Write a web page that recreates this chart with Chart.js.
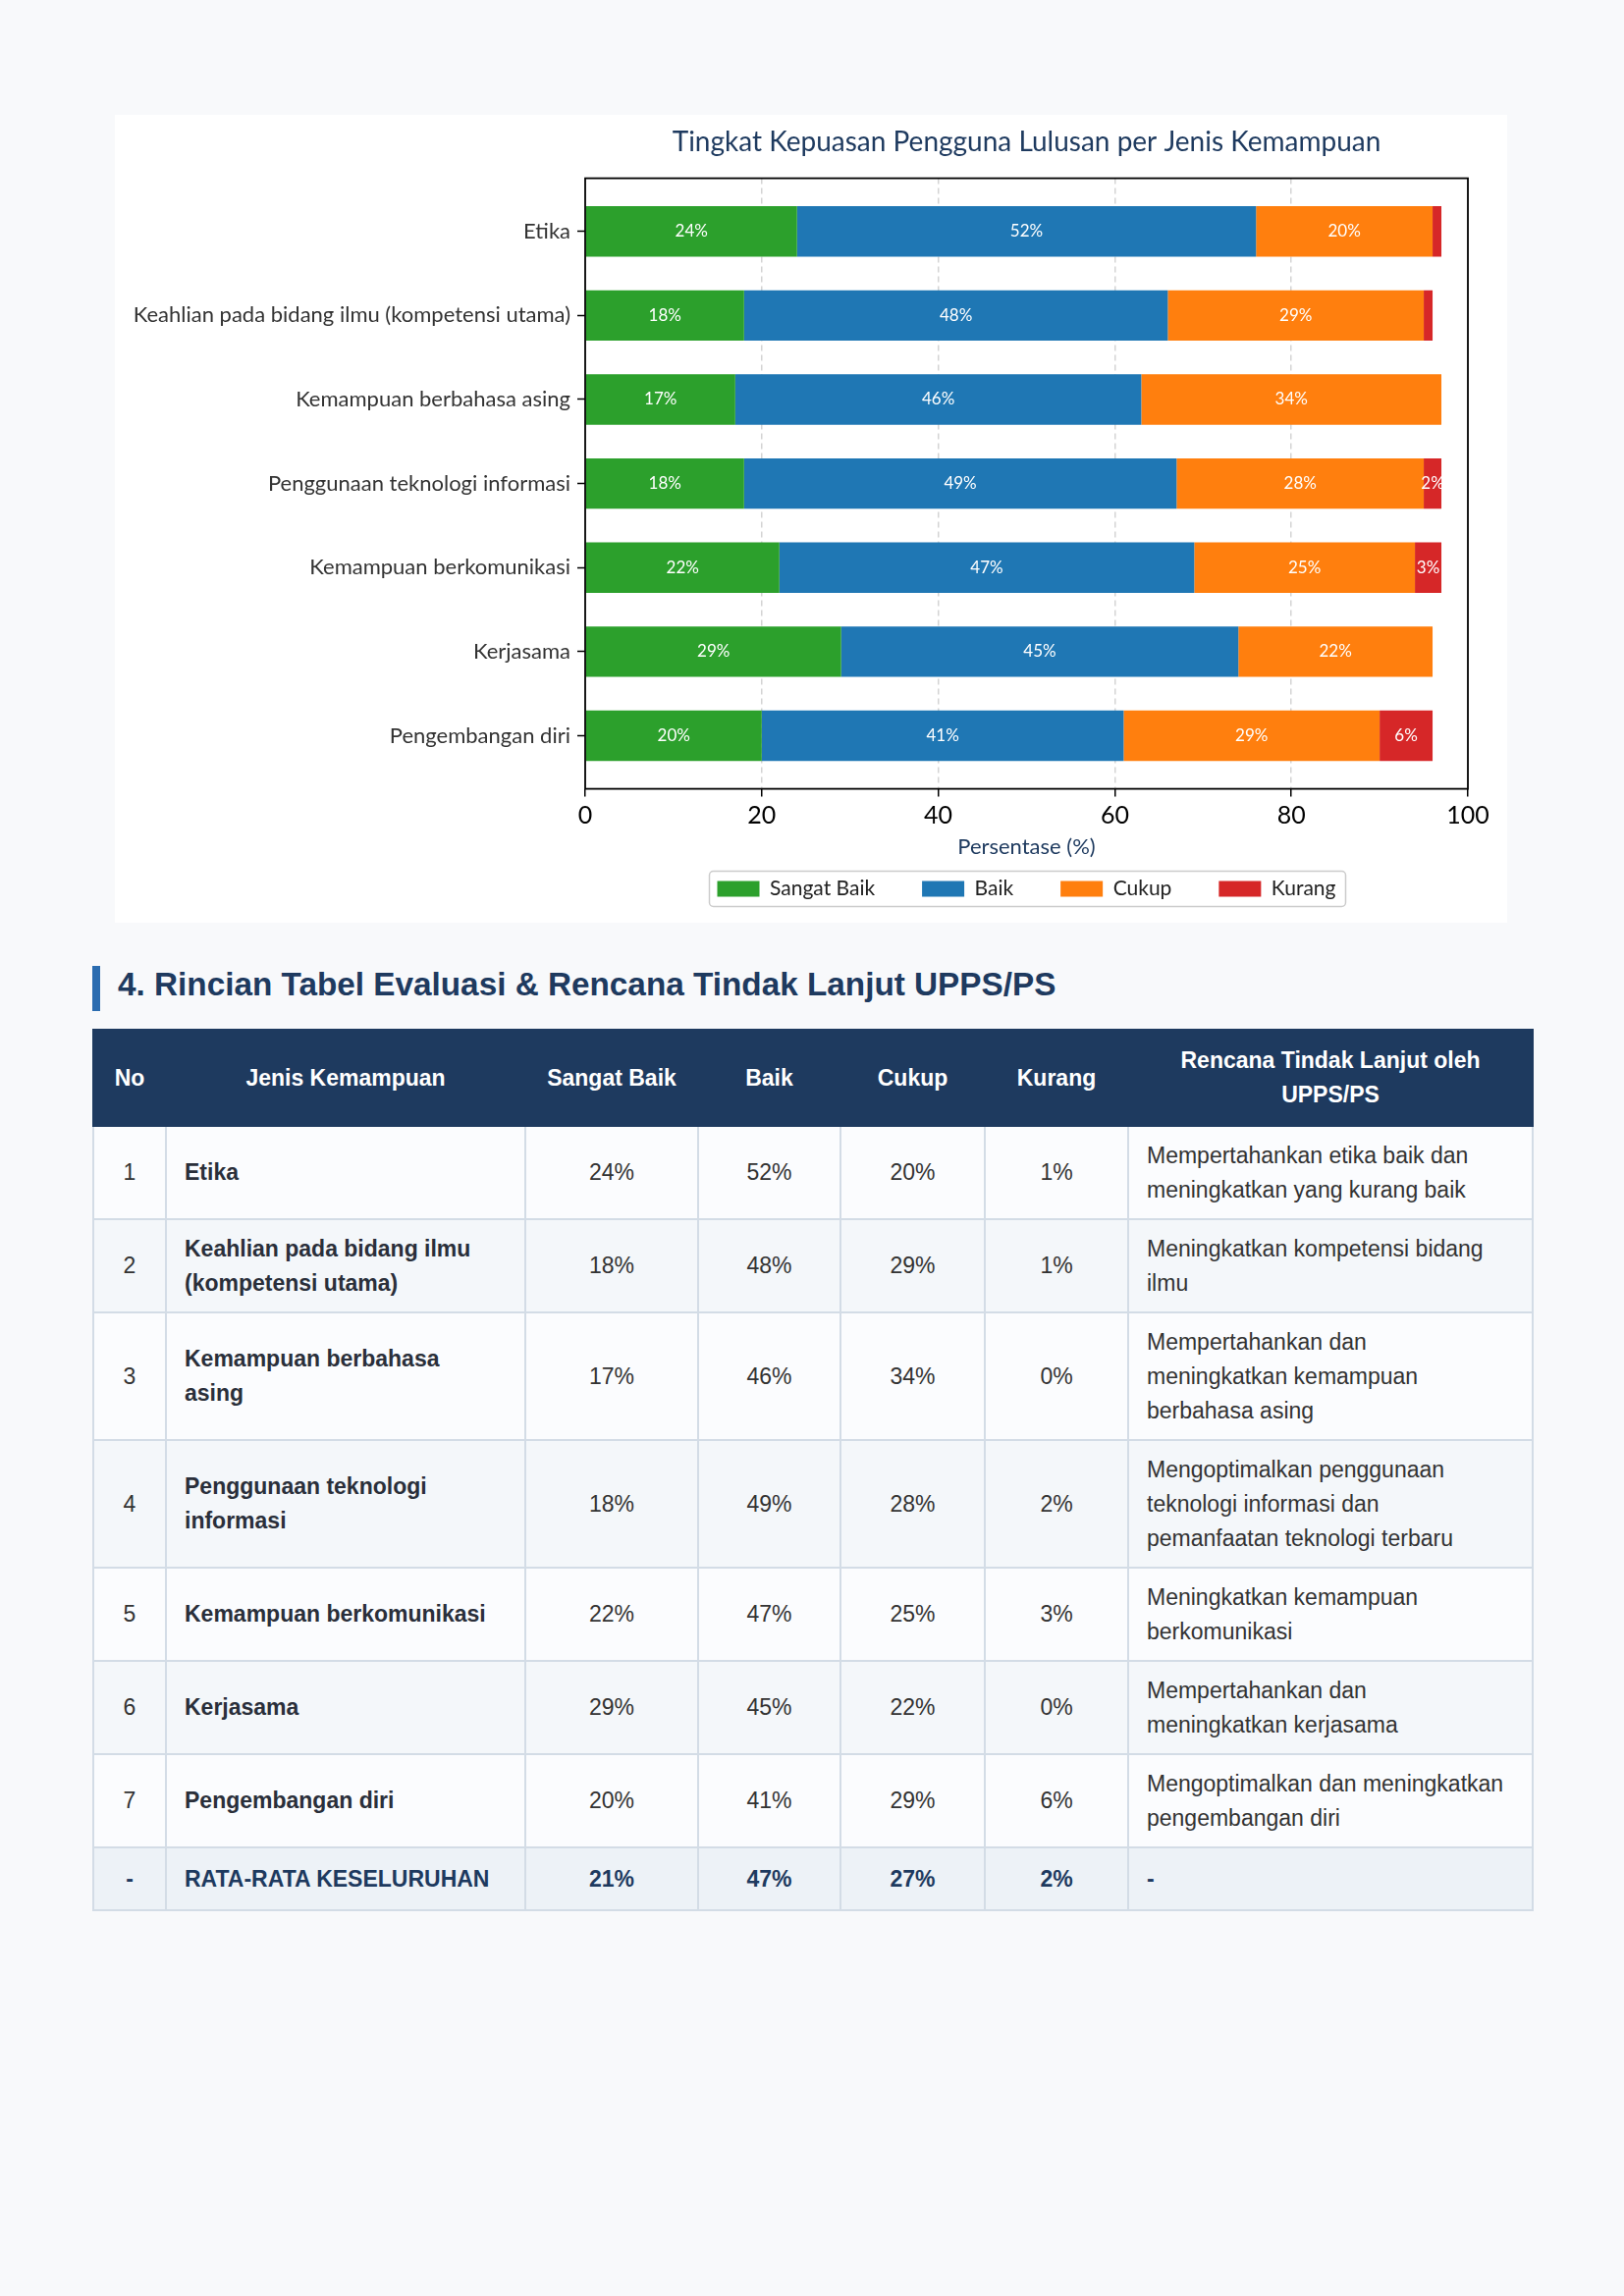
<!DOCTYPE html>
<html lang="id">
<head>
<meta charset="utf-8">
<title>Tingkat Kepuasan Pengguna Lulusan</title>
<script src="https://cdn.jsdelivr.net/npm/chart.js"></script>
<style>
  html, body { margin: 0; padding: 0; background: #f8f9fb; }
  #page { position: relative; width: 1654px; height: 2339px; }
  #card { position: absolute; left: 117px; top: 117px; width: 1418px; height: 823px; background: #fff; }
  #heading {
    position: absolute; left: 94px; top: 984px; height: 46px; line-height: 46px;
    border-left: 8px solid #2b6cb0; padding-left: 18px;
    font: bold 33.3px "Liberation Sans", Arial, sans-serif; color: #1e3a5f;
  }
  table {
    position: absolute; left: 94px; top: 1048px; width: 1466px;
    border-collapse: collapse; table-layout: fixed;
    font-family: "Liberation Sans", Arial, sans-serif; font-size: 23px; line-height: 35px; color: #333;
  }
  th { background: #1e3a5f; color: #fff; font-weight: bold; padding: 13px 18px; border: 2px solid #1e3a5f; text-align: center; }
  td { padding: 11.5px 18px; border: 2px solid #d3dce6; text-align: center; vertical-align: middle; }
  td.name { text-align: left; font-weight: bold; color: #2a2f3a; padding-right: 30px; }
  td.plan { text-align: left; padding-right: 24px; }
  tbody tr:nth-child(odd) td { background: #fbfcfe; }
  tbody tr:nth-child(even) td { background: #f4f7fa; }
  tbody tr.avg td { background: #edf2f7; color: #1e3a5f; font-weight: bold; padding-top: 13.5px; padding-bottom: 13.5px; }
</style>
</head>
<body>
<div id="page">
  <div id="card"><canvas id="chart" width="1418" height="823"></canvas></div>
  <div id="heading">4. Rincian Tabel Evaluasi &amp; Rencana Tindak Lanjut UPPS/PS</div>
  <table id="tbl">
    <colgroup>
      <col style="width:74px"><col style="width:366px"><col style="width:176px"><col style="width:145px">
      <col style="width:147px"><col style="width:146px"><col style="width:412px">
    </colgroup>
    <thead>
      <tr><th>No</th><th>Jenis Kemampuan</th><th>Sangat Baik</th><th>Baik</th><th>Cukup</th><th>Kurang</th><th>Rencana Tindak Lanjut oleh UPPS/PS</th></tr>
    </thead>
    <tbody></tbody>
  </table>
</div>
<script>
const categories = [
  "Etika",
  "Keahlian pada bidang ilmu (kompetensi utama)",
  "Kemampuan berbahasa asing",
  "Penggunaan teknologi informasi",
  "Kemampuan berkomunikasi",
  "Kerjasama",
  "Pengembangan diri"
];
const seriesNames = ["Sangat Baik", "Baik", "Cukup", "Kurang"];
const sangatBaik = [24, 18, 17, 18, 22, 29, 20];
const baik = [52, 48, 46, 49, 47, 45, 41];
const cukup = [20, 29, 34, 28, 25, 22, 29];
const kurang = [1, 1, 0, 2, 3, 0, 6];
const rataRata = [21, 47, 27, 2];
const rencana = [
  "Mempertahankan etika baik dan meningkatkan yang kurang baik",
  "Meningkatkan kompetensi bidang ilmu",
  "Mempertahankan dan meningkatkan kemampuan berbahasa asing",
  "Mengoptimalkan penggunaan teknologi informasi dan pemanfaatan teknologi terbaru",
  "Meningkatkan kemampuan berkomunikasi",
  "Mempertahankan dan meningkatkan kerjasama",
  "Mengoptimalkan dan meningkatkan pengembangan diri"
];
const xTicks = [0, 20, 40, 60, 80, 100];

const series = [sangatBaik, baik, cukup, kurang];
const colors = ["#2ca02c", "#1f77b4", "#ff7f0e", "#d62728"];
const chartFont = "Lato, 'Noto Sans', sans-serif";

// table
const tbody = document.querySelector("#tbl tbody");
categories.forEach((c, i) => {
  const tr = document.createElement("tr");
  tr.innerHTML = `<td>${i + 1}</td><td class="name">${c}</td>` +
    series.map(s => `<td>${s[i]}%</td>`).join("") +
    `<td class="plan">${rencana[i]}</td>`;
  tbody.appendChild(tr);
});
const avgRow = document.createElement("tr");
avgRow.className = "avg";
avgRow.innerHTML = `<td>-</td><td class="name">RATA-RATA KESELURUHAN</td>` +
  rataRata.map(v => `<td>${v}%</td>`).join("") + `<td class="plan">-</td>`;
tbody.appendChild(avgRow);

// white % labels inside the bars
const barLabels = {
  id: "barLabels",
  afterDatasetsDraw(chart) {
    const ctx = chart.ctx;
    ctx.save();
    ctx.font = "17px " + chartFont;
    ctx.fillStyle = "#fff";
    ctx.textAlign = "center";
    ctx.textBaseline = "middle";
    chart.data.datasets.forEach((ds, i) => {
      chart.getDatasetMeta(i).data.forEach((bar, j) => {
        const v = series[i][j];
        if (v < 2) return;
        const p = bar.getCenterPoint();
        ctx.fillText(v + "%", p.x, p.y);
      });
    });
    ctx.restore();
  }
};

// matplotlib-like frame + legend box
const frame = {
  id: "frame",
  afterDatasetsDraw(chart) {
    const a = chart.chartArea, ctx = chart.ctx;
    ctx.save();
    ctx.strokeStyle = "#000";
    ctx.lineWidth = 1.8;
    ctx.strokeRect(a.left, a.top, a.right - a.left, a.bottom - a.top);
    ctx.restore();
  },
  afterDraw(chart) {
    const boxes = chart.legend.legendHitBoxes;
    if (!boxes || !boxes.length) return;
    const left = Math.min(...boxes.map(b => b.left)) - 8;
    const right = Math.max(...boxes.map(b => b.left + b.width)) + 10;
    const cy = boxes[0].top + boxes[0].height / 2;
    const ctx = chart.ctx;
    ctx.save();
    ctx.strokeStyle = "#cccccc";
    ctx.lineWidth = 1.5;
    ctx.beginPath();
    ctx.roundRect(left, cy - 18, right - left, 36, 4);
    ctx.stroke();
    ctx.restore();
  }
};

new Chart(document.getElementById("chart"), {
  type: "bar",
  data: {
    datasets: series.map((s, i) => ({
      label: seriesNames[i],
      data: s.map((v, j) => ({ x: v, y: j })),
      backgroundColor: colors[i],
      borderWidth: 0,
      barPercentage: 0.6,
      categoryPercentage: 1
    }))
  },
  options: {
    indexAxis: "y",
    responsive: false,
    animation: false,
    layout: { padding: { left: 0, right: 40, top: 0, bottom: 14 } },
    scales: {
      x: {
        type: "linear",
        stacked: true,
        min: 0,
        max: 100,
        afterBuildTicks: (scale) => { scale.ticks = xTicks.map(v => ({ value: v })); },
        grid: {
          color: (c) => (c.tick && (c.tick.value === 0 || c.tick.value === 100)) ? "rgba(0,0,0,0)" : "#d4d4d4",
          lineWidth: 1.5,
          tickColor: "#000",
          tickLength: 8,
          tickWidth: 1.5
        },
        border: { display: false, dash: [6, 4] },
        ticks: { color: "#000", padding: 4, font: { family: chartFont, size: 25 } },
        title: {
          display: true,
          text: "Persentase (%)",
          color: "#1e3a5f",
          font: { family: chartFont, size: 22 },
          padding: { top: 0, bottom: -29 }
        }
      },
      y: {
        type: "linear",
        stacked: true,
        reverse: true,
        offset: false,
        min: -0.632,
        max: 6.632,
        afterBuildTicks: (scale) => { scale.ticks = categories.map((c, i) => ({ value: i })); },
        afterFit: (scale) => { scale.width = 479; },
        grid: { offset: false, drawOnChartArea: false, tickColor: "#000", tickLength: 8, tickWidth: 1.5 },
        border: { display: false },
        ticks: {
          color: "#333",
          padding: 7,
          font: { family: chartFont, size: 22 },
          callback: (v) => categories[v]
        }
      }
    },
    plugins: {
      title: {
        display: true,
        fullSize: false,
        text: "Tingkat Kepuasan Pengguna Lulusan per Jenis Kemampuan",
        color: "#1e3a5f",
        font: { family: chartFont, size: 28, weight: "normal" },
        padding: { top: 11, bottom: 20 }
      },
      legend: {
        position: "bottom",
        fullSize: false,
        labels: {
          boxWidth: 43,
          boxHeight: 16,
          padding: 48,
          color: "#222",
          font: { family: chartFont, size: 21 }
        }
      },
      tooltip: { enabled: false }
    }
  },
  plugins: [frame, barLabels]
});
</script>
</body>
</html>
